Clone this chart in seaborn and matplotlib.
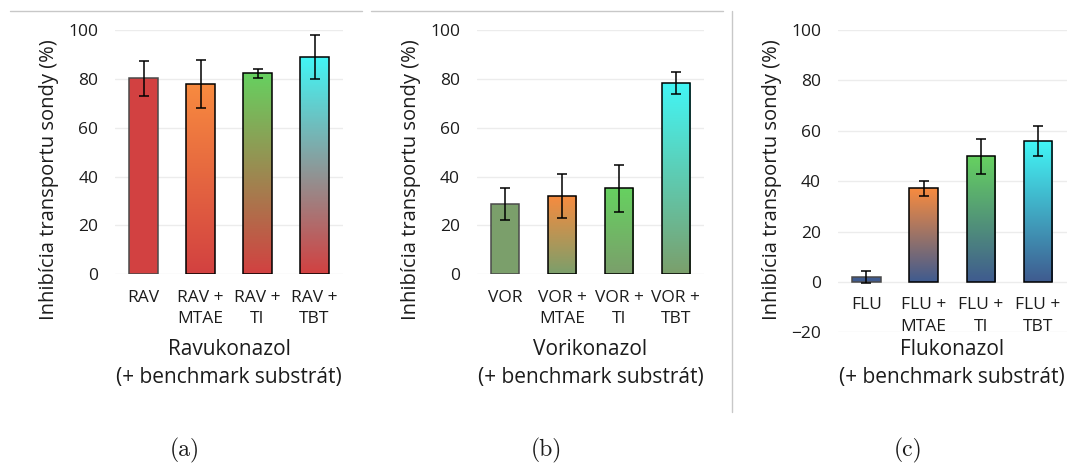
import numpy as np
import pandas as pd
import matplotlib
matplotlib.use("Agg")
import matplotlib.pyplot as plt
import matplotlib.colors as mcolors
from matplotlib.lines import Line2D
from matplotlib.transforms import blended_transform_factory
import seaborn as sns

# ---- data -------------------------------------------------------------
labels_rav = ["RAV", "RAV +\nMTAE", "RAV +\nTI", "RAV +\nTBT"]
inhib_rav = [80.2, 77.9, 82.2, 88.8]
sd_rav = [7.2, 9.8, 1.8, 9.0]

labels_vor = ["VOR", "VOR +\nMTAE", "VOR +\nTI", "VOR +\nTBT"]
inhib_vor = [28.7, 32.1, 35.2, 78.4]
sd_vor = [6.6, 9.0, 9.7, 4.5]

labels_flu = ["FLU", "FLU +\nMTAE", "FLU +\nTI", "FLU +\nTBT"]
inhib_flu = [2.0, 37.1, 49.9, 55.8]
sd_flu = [2.4, 3.0, 7.0, 6.0]

xlabels = ["Ravukonazol\n(+ benchmark substrát)",
           "Vorikonazol\n(+ benchmark substrát)",
           "Flukonazol\n(+ benchmark substrát)"]
ylabel = "Inhibícia transportu sondy (%)"
captions = ["(a)", "(b)", "(c)"]

# gradient colours: top of each bar fades into the panel's base colour
base_colors = ["#d24141", "#7b9f6b", "#3f5b8f"]
top_colors = [None, "#f88b3f", "#66d160", "#42f6f6"]

# ---- figure -----------------------------------------------------------
sns.set_theme(style="white")
plt.rcParams["font.family"] = ["Open Sans", "DejaVu Sans"]
ink = "#1c1c1c"
plt.rcParams.update({"text.color": ink, "axes.labelcolor": ink,
                     "xtick.color": ink, "ytick.color": ink})

W, H = 1081, 463
fig = plt.figure(figsize=(W / 100, H / 100), dpi=100)


def px_axes(x0, x1, ytop, ybot):
    return fig.add_axes([x0 / W, 1 - ybot / H, (x1 - x0) / W, (ybot - ytop) / H])


panels = [
    (labels_rav, inhib_rav, sd_rav, px_axes(115, 343, 30, 274.3), (0, 100)),
    (labels_vor, inhib_vor, sd_vor, px_axes(476.7, 704.3, 30, 274.3), (0, 100)),
    (labels_flu, inhib_flu, sd_flu, px_axes(837.7, 1066.7, 30, 332.3), (-20, 100)),
]


def gradient_fill(ax, patch, top, bottom):
    x0, y0 = patch.get_x(), patch.get_y()
    w, h = patch.get_width(), patch.get_height()
    c_top = np.array(mcolors.to_rgb(top))
    c_bot = np.array(mcolors.to_rgb(bottom))
    t = np.linspace(0, 1, 256)[:, None]
    img = (c_top * (1 - t) + c_bot * t)[:, None, :]
    im = ax.imshow(img, extent=(x0, x0 + w, y0, y0 + h), aspect="auto",
                   origin="upper", zorder=2, interpolation="bilinear")
    im.set_clip_path(patch)
    patch.set_facecolor("none")


for i, (cats, vals, sds, ax, ylim) in enumerate(panels):
    df = pd.DataFrame({"cat": cats, "val": vals})
    sns.barplot(data=df, x="cat", y="val", ax=ax, width=0.5, errorbar=None,
                color=base_colors[i], saturation=1, edgecolor="black",
                linewidth=1.1, zorder=3)
    for j, patch in enumerate(ax.patches):
        patch.set_zorder(3)
        if top_colors[j] is not None:
            gradient_fill(ax, patch, top_colors[j], base_colors[i])
        else:
            patch.set_edgecolor("#4a4a4a")
    ax.errorbar(np.arange(len(vals)), vals, yerr=sds, fmt="none",
                ecolor="black", elinewidth=1.1, capsize=3.6, capthick=1.1,
                zorder=4)

    ax.set_xlim(-0.5, len(vals) - 0.5)
    ax.set_ylim(*ylim)
    ax.set_yticks(np.arange(ylim[0], 101, 20))
    ax.yaxis.grid(True, color="#ececec", linewidth=1.0)
    ax.set_axisbelow(True)
    for s in ax.spines.values():
        s.set_visible(False)
    # category labels sit at the zero line
    ax.spines["bottom"].set_position(("data", 0))
    ax.tick_params(axis="x", length=0, pad=11, labelsize=12.5)
    ax.tick_params(axis="y", length=0, pad=12, labelsize=12.5)
    for lab in ax.get_xticklabels():
        lab.set_linespacing(1.45)

    ax.set_xlabel(xlabels[i], fontsize=15, linespacing=1.45)
    ax.xaxis.set_label_coords(0.5, 1 - 339 / H,
                              transform=blended_transform_factory(ax.transAxes, fig.transFigure))
    ax.set_ylabel(ylabel, fontsize=14.5, va="center")
    x_lab = (ax.get_position().x0 * W - 66) / W
    ax.yaxis.set_label_coords(x_lab, 1 - 180 / H, transform=fig.transFigure)

    cx = (ax.get_position().x0 + ax.get_position().x1) / 2
    fig.text(cx - 44 / W, 1 - 450 / H, captions[i], family="cmr10",
             fontsize=17, ha="center", va="center")

# thin rules separating the sub-figures
rule = "#c8c8c8"
fig.add_artist(Line2D([10 / W, 361.7 / W], [1 - 11 / H] * 2, color=rule, lw=1))
fig.add_artist(Line2D([371 / W, 722.7 / W], [1 - 11 / H] * 2, color=rule, lw=1))
fig.add_artist(Line2D([732.3 / W] * 2, [1 - 11 / H, 1 - 412 / H], color=rule, lw=1))

fig.savefig("out.png", dpi=100)
